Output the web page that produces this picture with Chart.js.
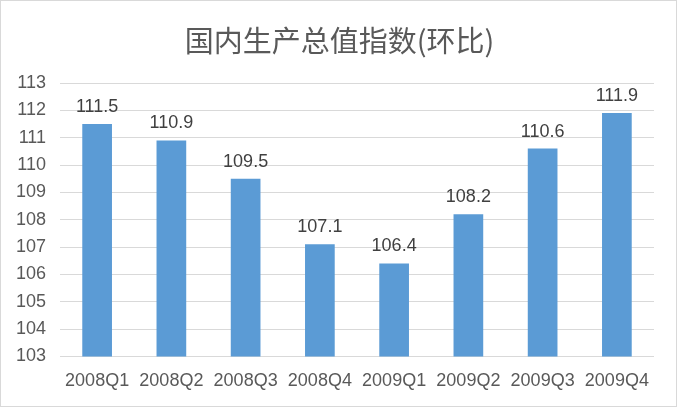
<!DOCTYPE html>
<html>
<head>
<meta charset="utf-8">
<title>国内生产总值指数</title>
<script src="https://cdn.jsdelivr.net/npm/chart.js"></script>
<style>
  html, body { margin: 0; padding: 0; background: #fff; }
  .wrap { position: relative; width: 675px; height: 405px; border: 1px solid #d9d9d9; }
</style>
</head>
<body>
<div class="wrap"><canvas id="chart"></canvas></div>
<script>
// values
const quarters = ['2008Q1', '2008Q2', '2008Q3', '2008Q4', '2009Q1', '2009Q2', '2009Q3', '2009Q4'];
const gdpIndex = [111.5, 110.9, 109.5, 107.1, 106.4, 108.2, 110.6, 111.9];
const yMin = 103;
const yMax = 113;
const chartTitle = '国内生产总值指数(环比)';

const textColor = '#595959';
const latin = '"Liberation Sans", Arial, sans-serif';

// title centred on the whole canvas, values above the bars
const labelsPlugin = {
  id: 'labelsPlugin',
  afterDraw(chart) {
    const { ctx } = chart;
    ctx.save();
    ctx.font = '29px "Noto Sans CJK SC", sans-serif';
    ctx.fillStyle = textColor;
    ctx.textAlign = 'center';
    ctx.textBaseline = 'middle';
    ctx.fillText(chartTitle, chart.width / 2 + 1, 40);
    ctx.restore();
  },
  afterDatasetsDraw(chart) {
    const { ctx } = chart;
    const meta = chart.getDatasetMeta(0);
    ctx.save();
    ctx.font = '18px ' + latin;
    ctx.fillStyle = '#404040';
    ctx.textAlign = 'center';
    ctx.textBaseline = 'bottom';
    meta.data.forEach((bar, i) => {
      ctx.fillText(gdpIndex[i].toFixed(1), bar.x, bar.y - 8);
    });
    ctx.restore();
  }
};

new Chart(document.getElementById('chart'), {
  type: 'bar',
  data: {
    labels: quarters,
    datasets: [{
      data: gdpIndex,
      backgroundColor: '#5B9BD5',
      barPercentage: 0.8,
      categoryPercentage: 0.5
    }]
  },
  options: {
    responsive: true,
    maintainAspectRatio: false,
    animation: false,
    layout: { padding: { left: 0, right: 22, top: 82, bottom: 0 } },
    plugins: {
      legend: { display: false },
      tooltip: { enabled: false },
      title: { display: false }
    },
    scales: {
      x: {
        grid: { display: false, drawTicks: false },
        border: { display: false },
        ticks: { color: textColor, font: { family: latin, size: 18 }, padding: 14, maxRotation: 0 }
      },
      y: {
        min: yMin,
        max: yMax,
        afterFit(scale) { scale.width = 59; },
        grid: { color: '#d9d9d9', drawTicks: false },
        border: { display: false },
        ticks: { stepSize: 1, color: textColor, font: { family: latin, size: 18 }, padding: 14 }
      }
    }
  },
  plugins: [labelsPlugin]
});
</script>
</body>
</html>
